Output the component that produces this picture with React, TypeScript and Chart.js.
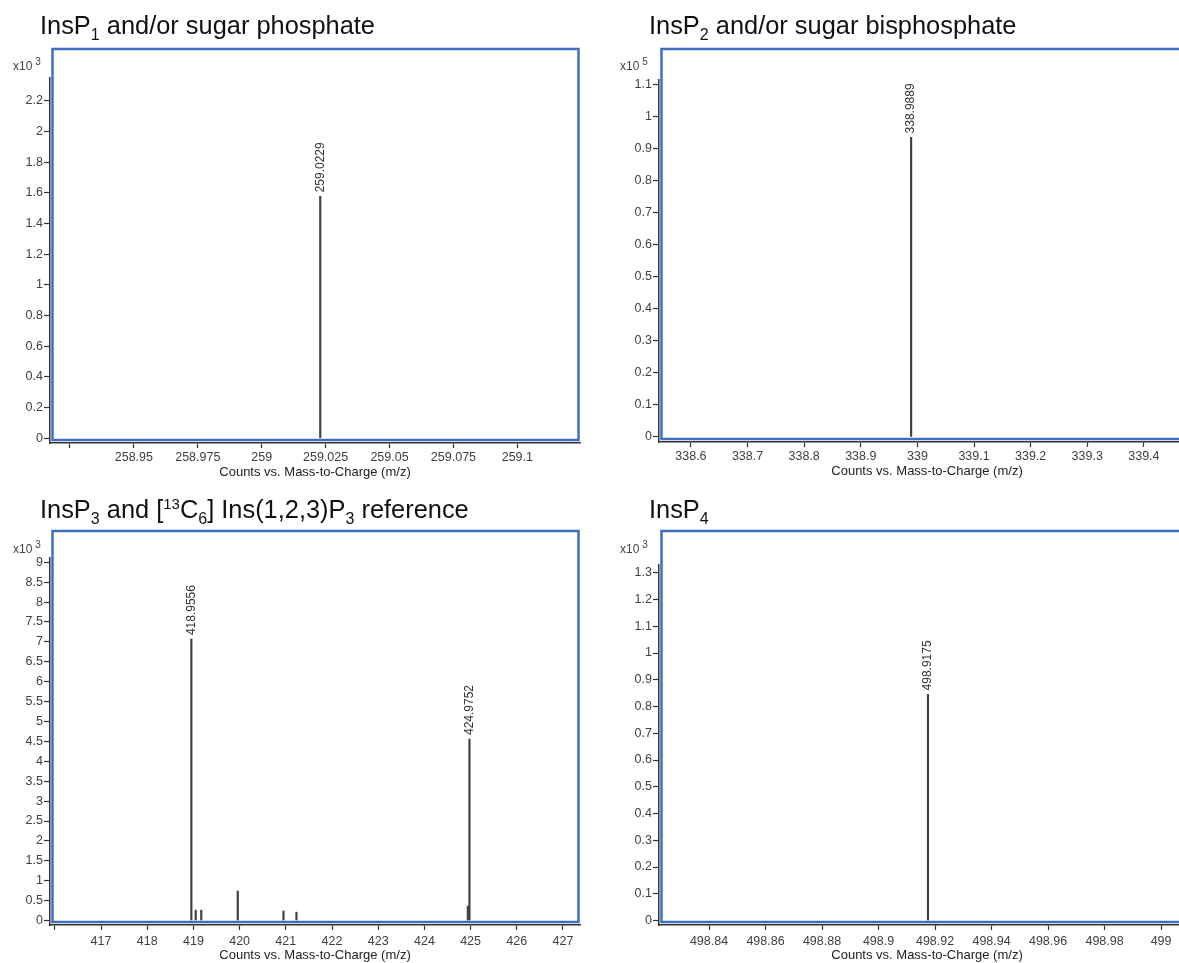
import React, { useEffect, useRef } from 'react';
import { Chart, registerables } from 'chart.js';

Chart.register(...registerables);

const FONT = "'Liberation Sans', Arial, Helvetica, sans-serif";
Chart.defaults.font.family = FONT;

// ---- Data (counts are in units of the panel's x10^n multiplier) ----
// Panel 1: InsP1 and/or sugar phosphate (x10^3)
const insP1Mz = [259.0229];
const insP1Counts = [1.578];
const insP1PeakLabels = ['259.0229'];

// Panel 2: InsP2 and/or sugar bisphosphate (x10^5)
const insP2Mz = [338.9889];
const insP2Counts = [0.934];
const insP2PeakLabels = ['338.9889'];

// Panel 3: InsP3 and [13C6] Ins(1,2,3)P3 reference (x10^3)
const insP3Mz = [418.9556, 419.05, 419.17, 419.96, 420.95, 421.23, 424.94, 424.9752];
const insP3Counts = [7.07, 0.26, 0.26, 0.74, 0.24, 0.21, 0.36, 4.56];
const insP3PeakLabels = ['418.9556', '', '', '', '', '', '', '424.9752'];

// Panel 4: InsP4 (x10^3)
const insP4Mz = [498.9175];
const insP4Counts = [0.845];
const insP4PeakLabels = ['498.9175'];

const xAxisTitle = 'Counts vs. Mass-to-Charge (m/z)';
const exponents = [3, 5, 3, 3];

// Tick labels hidden in the original (clipped at the pane edge)
const insP1HiddenXTicks = [258.925];
const insP3HiddenXTicks = [416];

type PanelCfg = {
  mz: number[];
  counts: number[];
  peakLabels: string[];
  hidden: number[];
  exponent: number;
  title: React.ReactNode;
  xMin: number; xMax: number; xStep: number;
  yMin: number; yMax: number; yStep: number;
  left: number; top: number; w: number; h: number;
  pad: { left: number; top: number; right: number; bottom: number };
  yW: number; xH: number; frameTop: number; xTickPad: number;
  titleLeft: number; titleTop: number;
  expLeft: number; expTop: number;
};

const fmt = (v: number) => String(+Number(v).toFixed(4));

const framePlugin = {
  id: 'frameAndLabels',
  afterDraw(chart: any, _args: any, opts: any) {
    const { ctx, chartArea } = chart;
    ctx.save();
    ctx.strokeStyle = '#3f6ec2';
    ctx.lineWidth = 2.5;
    const l = chartArea.left + 2.5;
    const r = chartArea.right - 1.5;
    const t = opts.frameTop;
    const b = chartArea.bottom - 3;
    ctx.strokeRect(l, t, r - l, b - t);
    const meta = chart.getDatasetMeta(0);
    ctx.fillStyle = '#333';
    ctx.font = `12px ${FONT}`;
    ctx.textAlign = 'left';
    ctx.textBaseline = 'middle';
    (opts.labels as string[]).forEach((txt, i) => {
      if (!txt) return;
      const el = meta.data[i];
      if (!el) return;
      ctx.save();
      ctx.translate(el.x, el.y - 4);
      ctx.rotate(-Math.PI / 2);
      ctx.fillText(txt, 0, 0);
      ctx.restore();
    });
    ctx.restore();
  },
};

function Panel({ cfg }: { cfg: PanelCfg }) {
  const ref = useRef<HTMLCanvasElement | null>(null);
  useEffect(() => {
    if (!ref.current) return;
    const chart = new Chart(ref.current, {
      type: 'bar',
      data: {
        datasets: [
          {
            data: cfg.mz.map((x, i) => ({ x, y: cfg.counts[i] })) as any,
            backgroundColor: '#404040',
            borderWidth: 0,
            barThickness: 1.5,
          } as any,
        ],
      },
      options: {
        animation: false,
        responsive: false,
        maintainAspectRatio: false,
        devicePixelRatio: 1,
        layout: { padding: cfg.pad, autoPadding: false } as any,
        plugins: {
          legend: { display: false },
          tooltip: { enabled: false },
          title: { display: false },
          frameAndLabels: { frameTop: cfg.frameTop, labels: cfg.peakLabels },
        } as any,
        scales: {
          x: {
            type: 'linear',
            min: cfg.xMin,
            max: cfg.xMax,
            offset: false,
            grid: {
              display: true,
              offset: false,
              drawOnChartArea: false,
              drawTicks: true,
              tickLength: 5,
              tickColor: '#333',
              tickWidth: 1.2,
            },
            border: { display: true, color: '#333', width: 1.5 },
            ticks: {
              stepSize: cfg.xStep,
              autoSkip: false,
              maxRotation: 0,
              minRotation: 0,
              includeBounds: false,
              padding: cfg.xTickPad,
              color: '#404040',
              font: { size: 12.5, family: FONT },
              callback: (v: any) => {
                const n = Number(v);
                if (cfg.hidden.some((h) => Math.abs(h - n) < 1e-6)) return '';
                return fmt(n);
              },
            },
            title: {
              display: true,
              text: xAxisTitle,
              color: '#222',
              font: { size: 13, family: FONT },
              padding: 0,
            },
            afterFit: (s: any) => {
              s.height = cfg.xH;
            },
          } as any,
          y: {
            type: 'linear',
            min: cfg.yMin,
            max: cfg.yMax,
            grid: {
              display: true,
              drawOnChartArea: false,
              drawTicks: true,
              tickLength: 6,
              tickColor: '#333',
              tickWidth: 1.2,
            },
            border: { display: true, color: '#333', width: 1.5 },
            ticks: {
              stepSize: cfg.yStep,
              autoSkip: false,
              includeBounds: false,
              padding: 1,
              color: '#404040',
              font: { size: 12.5, family: FONT },
              callback: (v: any) => fmt(Number(v)),
            },
            afterFit: (s: any) => {
              s.width = cfg.yW;
            },
          } as any,
        },
      },
      plugins: [framePlugin as any],
    });
    return () => chart.destroy();
  }, [cfg]);

  return (
    <>
      <canvas
        ref={ref}
        width={cfg.w}
        height={cfg.h}
        style={{ position: 'absolute', left: cfg.left, top: cfg.top, width: cfg.w, height: cfg.h, display: 'block' }}
      />
      <div
        style={{
          position: 'absolute',
          left: cfg.titleLeft,
          top: cfg.titleTop,
          fontFamily: FONT,
          fontSize: 25.4,
          lineHeight: '30px',
          color: '#111',
          whiteSpace: 'nowrap',
        }}
      >
        {cfg.title}
      </div>
      <div
        style={{
          position: 'absolute',
          left: cfg.expLeft,
          top: cfg.expTop,
          fontFamily: FONT,
          fontSize: 12,
          lineHeight: '14px',
          color: '#444',
          whiteSpace: 'nowrap',
        }}
      >
        x10
        <span style={{ fontSize: 10, position: 'relative', top: -5, marginLeft: 3 }}>{cfg.exponent}</span>
      </div>
    </>
  );
}

const sub = (t: string) => (
  <span style={{ fontSize: 16, position: 'relative', top: 6 }}>{t}</span>
);
const sup = (t: string) => (
  <span style={{ fontSize: 15, position: 'relative', top: -9 }}>{t}</span>
);

const panels: PanelCfg[] = [
  {
    mz: insP1Mz, counts: insP1Counts, peakLabels: insP1PeakLabels, hidden: insP1HiddenXTicks,
    exponent: exponents[0],
    title: <>InsP{sub('1')} and/or sugar phosphate</>,
    xMin: 258.9172, xMax: 259.1245, xStep: 0.025,
    yMin: -0.0307, yMax: 2.35, yStep: 0.2,
    left: 0, top: 0, w: 600, h: 490,
    pad: { left: 0, top: 78, right: 20, bottom: 10 },
    yW: 50, xH: 37, frameTop: 49, xTickPad: 2,
    titleLeft: 40, titleTop: 10,
    expLeft: 13, expTop: 59,
  },
  {
    mz: insP2Mz, counts: insP2Counts, peakLabels: insP2PeakLabels, hidden: [],
    exponent: exponents[1],
    title: <>InsP{sub('2')} and/or sugar bisphosphate</>,
    xMin: 338.5436, xMax: 339.4903, xStep: 0.1,
    yMin: -0.0156, yMax: 1.113, yStep: 0.1,
    left: 600, top: 0, w: 600, h: 490,
    pad: { left: 0, top: 80, right: 5, bottom: 11 },
    yW: 59, xH: 37, frameTop: 49, xTickPad: 2,
    titleLeft: 649, titleTop: 10,
    expLeft: 620, expTop: 59,
  },
  {
    mz: insP3Mz, counts: insP3Counts, peakLabels: insP3PeakLabels, hidden: insP3HiddenXTicks,
    exponent: exponents[2],
    title: <>InsP{sub('3')} and [{sup('13')}C{sub('6')}] Ins(1,2,3)P{sub('3')} reference</>,
    xMin: 415.896, xMax: 427.368, xStep: 1,
    yMin: -0.113, yMax: 9.108, yStep: 0.5,
    left: 0, top: 490, w: 600, h: 473,
    pad: { left: 0, top: 68, right: 20, bottom: 0 },
    yW: 50, xH: 38, frameTop: 41, xTickPad: 4,
    titleLeft: 40, titleTop: 494,
    expLeft: 13, expTop: 542,
  },
  {
    mz: insP4Mz, counts: insP4Counts, peakLabels: insP4PeakLabels, hidden: [],
    exponent: exponents[3],
    title: <>InsP{sub('4')}</>,
    xMin: 498.8223, xMax: 499.012, xStep: 0.02,
    yMin: -0.0168, yMax: 1.329, yStep: 0.1,
    left: 600, top: 490, w: 600, h: 473,
    pad: { left: 0, top: 75, right: 5, bottom: 0 },
    yW: 59, xH: 38, frameTop: 41, xTickPad: 4,
    titleLeft: 649, titleTop: 494,
    expLeft: 620, expTop: 542,
  },
];

export default function App() {
  return (
    <div
      style={{
        position: 'absolute',
        left: 0,
        top: 0,
        width: 1179,
        height: 963,
        overflow: 'hidden',
        background: '#fff',
      }}
    >
      {panels.map((p, i) => (
        <Panel key={i} cfg={p} />
      ))}
    </div>
  );
}
